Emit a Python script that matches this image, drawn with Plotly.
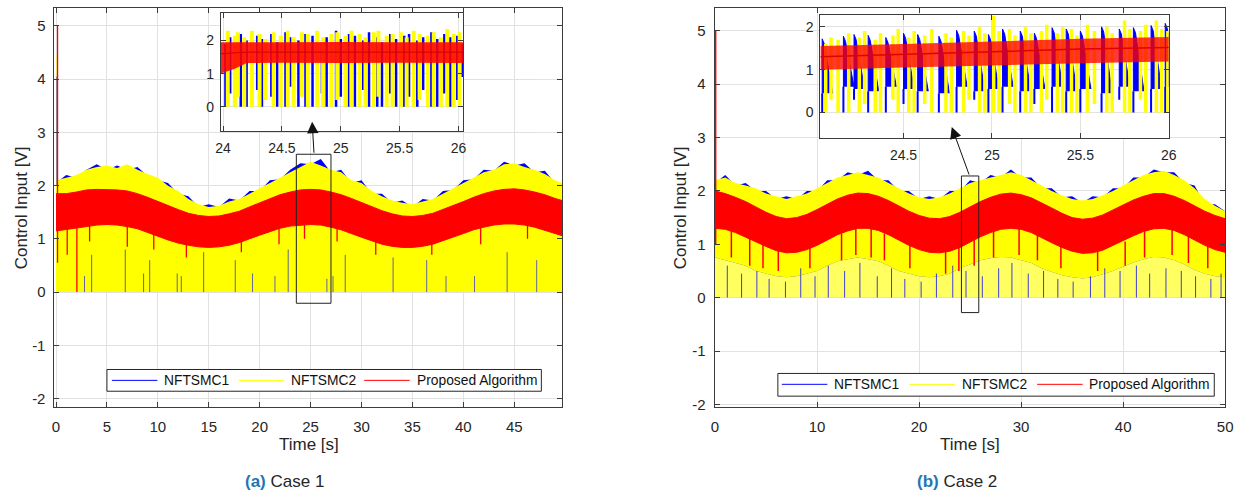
import plotly.graph_objects as go

W, H = 1248, 498

# ---------------- data: panel (a) Case 1 (envelopes) ----------------
t_a = [0, 1, 2, 3, 4, 5, 6, 7, 8, 9, 10, 11, 12, 13, 14, 15, 16, 17, 18, 19, 20, 21, 22, 23, 24,
       25, 26, 27, 28, 29, 30, 31, 32, 33, 34, 35, 36, 37, 38, 39, 40, 41, 42, 43, 44, 45, 46, 47,
       48, 49, 49.7]
yel_up_a = [2.1, 2.15, 2.2, 2.3, 2.35, 2.38, 2.33, 2.4, 2.3, 2.22, 2.15, 2.0, 1.9, 1.75, 1.65, 1.6,
            1.62, 1.7, 1.75, 1.85, 1.95, 2.05, 2.15, 2.25, 2.35, 2.45, 2.38, 2.3, 2.25, 2.1, 2.05,
            1.9, 1.8, 1.72, 1.68, 1.65, 1.7, 1.75, 1.85, 1.95, 2.05, 2.15, 2.25, 2.3, 2.4, 2.42,
            2.35, 2.3, 2.22, 2.1, 2.05]
blue_up_a = [2.05, 2.2, 2.15, 2.3, 2.4, 2.3, 2.38, 2.3, 2.35, 2.18, 2.1, 2.05, 1.85, 1.8, 1.6, 1.65,
             1.6, 1.76, 1.72, 1.9, 1.9, 2.1, 2.12, 2.3, 2.42, 2.4, 2.5, 2.25, 2.3, 2.05, 2.1, 1.85,
             1.85, 1.68, 1.72, 1.6, 1.75, 1.72, 1.9, 1.92, 2.1, 2.12, 2.3, 2.28, 2.45, 2.38, 2.42,
             2.25, 2.28, 2.05, 2.0]
red_up_a = [1.85, 1.85, 1.88, 1.92, 1.93, 1.93, 1.92, 1.9, 1.85, 1.78, 1.7, 1.62, 1.55, 1.48, 1.44,
            1.42, 1.43, 1.47, 1.52, 1.6, 1.68, 1.76, 1.83, 1.88, 1.92, 1.93, 1.92, 1.88, 1.83, 1.76,
            1.68, 1.6, 1.53, 1.47, 1.43, 1.42, 1.44, 1.48, 1.55, 1.63, 1.7, 1.78, 1.85, 1.9, 1.93,
            1.94, 1.92, 1.88, 1.83, 1.76, 1.72]
red_lo_a = [1.15, 1.18, 1.2, 1.23, 1.26, 1.27, 1.26, 1.23, 1.19, 1.12, 1.05, 0.98, 0.92, 0.88, 0.85,
            0.84, 0.85, 0.88, 0.93, 1.0, 1.07, 1.14, 1.2, 1.24, 1.26, 1.27, 1.26, 1.22, 1.17, 1.1,
            1.03, 0.96, 0.9, 0.86, 0.84, 0.84, 0.86, 0.9, 0.96, 1.03, 1.1, 1.17, 1.22, 1.26, 1.28,
            1.28, 1.26, 1.22, 1.17, 1.1, 1.06]
# isolated vertical excursions (time, low, high)
blue_spk_a_t = [0.08, 2.8, 3.5, 6.8, 8.6, 9.2, 11.9, 12.3, 14.5, 17.6, 19.3, 21.5, 22.8, 26.6, 27.2,
                28.4, 33.1, 36.4, 38.3, 41.1, 44.3, 47.2]
blue_spk_a_lo = [2.0, 0, 0, 0, 0, 0, 0, 0, 0, 0, 0, 0, 0, 0, 0, 0, 0, 0, 0, 0, 0, 0]
blue_spk_a_hi = [4.05, 0.3, 0.7, 0.8, 0.35, 0.6, 0.35, 0.3, 0.75, 0.6, 0.35, 0.3, 0.8, 0.25, 0.3,
                 0.7, 0.65, 0.6, 0.3, 0.3, 0.75, 0.6]
yel_spk_a_t = [0.12]
yel_spk_a_lo = [0.0]
yel_spk_a_hi = [4.45]
red_spk_a_t = [0.15, 2.05, 7.0, 1.1, 3.3, 9.6, 12.8, 18.2, 21.9, 24.4, 27.6, 31.4, 36.9, 41.7, 46.3]
red_spk_a_lo = [0.55, 0.0, 0.85, 0.7, 0.95, 0.8, 0.65, 0.75, 0.9, 1.0, 0.95, 0.7, 0.7, 0.9, 1.0]
red_spk_a_hi = [5.0, 1.25, 1.3, 1.4, 1.4, 1.3, 1.1, 1.1, 1.3, 1.4, 1.4, 1.1, 1.0, 1.3, 1.4]

# ---------------- data: panel (b) Case 2 ----------------
t_b = [0, 1, 2, 3, 4, 5, 6, 7, 8, 9, 10, 11, 12, 13, 14, 15, 16, 17, 18, 19, 20, 21, 22, 23, 24,
       25, 26, 27, 28, 29, 30, 31, 32, 33, 34, 35, 36, 37, 38, 39, 40, 41, 42, 43, 44, 45, 46, 47,
       48, 49, 50]
yel_up_b = [2.2, 2.25, 2.15, 2.1, 2.05, 1.95, 1.9, 1.85, 1.9, 1.95, 2.05, 2.15, 2.25, 2.3, 2.35, 2.3,
            2.25, 2.15, 2.05, 1.95, 1.88, 1.85, 1.88, 1.95, 2.05, 2.15, 2.2, 2.25, 2.3, 2.35, 2.3,
            2.2, 2.1, 2.0, 1.92, 1.85, 1.82, 1.85, 1.92, 2.0, 2.1, 2.2, 2.3, 2.35, 2.38, 2.3, 2.2,
            2.05, 1.85, 1.72, 1.62]
yel_lo_b = [0.75, 0.7, 0.65, 0.6, 0.5, 0.45, 0.4, 0.38, 0.4, 0.45, 0.5, 0.6, 0.68, 0.72, 0.75, 0.72,
            0.68, 0.6, 0.5, 0.45, 0.4, 0.38, 0.4, 0.45, 0.55, 0.62, 0.7, 0.74, 0.76, 0.75, 0.7,
            0.65, 0.55, 0.48, 0.42, 0.38, 0.36, 0.38, 0.44, 0.5, 0.58, 0.66, 0.72, 0.76, 0.75, 0.7,
            0.62, 0.52, 0.45, 0.4, 0.38]
blue_up_b = [2.15, 2.3, 2.1, 2.15, 2.0, 2.0, 1.85, 1.9, 1.85, 2.0, 2.0, 2.2, 2.2, 2.35, 2.3, 2.38,
             2.2, 2.2, 2.0, 2.0, 1.85, 1.9, 1.85, 2.0, 2.0, 2.2, 2.15, 2.3, 2.25, 2.4, 2.25, 2.25,
             2.05, 2.05, 1.88, 1.9, 1.78, 1.9, 1.88, 2.05, 2.05, 2.25, 2.25, 2.4, 2.35, 2.35, 2.15,
             2.1, 1.75, 1.75, 1.62]
red_up_b = [2.0, 1.95, 1.88, 1.8, 1.7, 1.6, 1.52, 1.48, 1.5, 1.56, 1.65, 1.75, 1.85, 1.92, 1.96, 1.95,
            1.9, 1.82, 1.72, 1.62, 1.54, 1.49, 1.48, 1.52, 1.6, 1.7, 1.8, 1.88, 1.94, 1.96, 1.93,
            1.87, 1.78, 1.68, 1.58, 1.5, 1.47, 1.49, 1.55, 1.64, 1.74, 1.83, 1.9, 1.95, 1.95, 1.9,
            1.82, 1.72, 1.62, 1.54, 1.48]
red_lo_b = [1.3, 1.28, 1.22, 1.14, 1.05, 0.96, 0.88, 0.84, 0.85, 0.9, 0.98, 1.08, 1.18, 1.25, 1.3,
            1.3, 1.26, 1.18, 1.08, 0.98, 0.9, 0.85, 0.84, 0.87, 0.94, 1.04, 1.14, 1.22, 1.28, 1.3,
            1.28, 1.22, 1.13, 1.03, 0.94, 0.87, 0.83, 0.84, 0.89, 0.97, 1.07, 1.16, 1.24, 1.29, 1.3,
            1.26, 1.18, 1.08, 0.98, 0.9, 0.85]
blue_spk_b_t = [0.04, 1.2, 2.6, 4.1, 5.3, 6.9, 8.4, 9.8, 11.1, 12.7, 14.2, 15.9, 17.3, 18.6, 20.2,
                21.7, 23.3, 24.6, 26.2, 27.8, 29.1, 30.7, 32.2, 33.6, 35.1, 36.8, 38.2, 39.7, 41.3,
                42.6, 44.2, 45.7, 47.1, 48.6, 49.6]
blue_spk_b_lo = [2.2, 0, 0, 0, 0, 0, 0, 0, 0, 0, 0, 0, 0, 0, 0, 0, 0, 0, 0, 0, 0, 0, 0, 0, 0, 0, 0,
                 0, 0, 0, 0, 0, 0, 0, 0]
blue_spk_b_hi = [3.95, 0.6, 0.45, 0.5, 0.35, 0.3, 0.55, 0.4, 0.6, 0.5, 0.65, 0.4, 0.55, 0.35, 0.3,
                 0.45, 0.6, 0.5, 0.4, 0.55, 0.65, 0.45, 0.5, 0.35, 0.3, 0.4, 0.55, 0.5, 0.6, 0.45,
                 0.55, 0.5, 0.4, 0.35, 0.45]
red_spk_b_t = [0.06, 1.6, 3.4, 4.7, 6.2, 9.3, 12.4, 13.8, 15.3, 16.6, 19.1, 22.6, 23.9, 25.4, 27.3,
               29.8, 31.6, 33.9, 37.5, 40.2, 42.1, 44.8, 46.4, 48.3]
red_spk_b_lo = [1.0, 0.75, 0.6, 0.55, 0.5, 0.55, 0.7, 0.8, 0.75, 0.7, 0.55, 0.45, 0.5, 0.6, 0.75,
                0.8, 0.7, 0.55, 0.5, 0.6, 0.75, 0.8, 0.65, 0.55]
red_spk_b_hi = [5.0, 1.3, 1.2, 1.1, 0.95, 0.95, 1.2, 1.3, 1.3, 1.2, 1.0, 0.9, 0.95, 1.1, 1.25,
                1.3, 1.25, 1.05, 0.9, 1.05, 1.25, 1.3, 1.2, 1.0]

# ---------------- data: inset of (a), 24 s - 26 s ----------------
blue_ia_t = [24.02, 24.06, 24.15, 24.20, 24.29, 24.33, 24.41, 24.46, 24.53, 24.57, 24.64, 24.70,
             24.76, 24.84, 24.88, 24.96, 25.00, 25.07, 25.12, 25.19, 25.24, 25.31, 25.35, 25.42,
             25.47, 25.54, 25.58, 25.65, 25.70, 25.77, 25.82, 25.88, 25.93, 25.99, 26.03]
blue_ia_hi = [1.9, 2.1, 2.2, 2.0, 2.15, 2.05, 2.2, 1.95, 2.25, 2.1, 2.0, 2.2, 2.15, 1.95, 2.1, 2.3,
              2.05, 2.2, 2.15, 2.0, 2.25, 2.1, 1.95, 2.2, 2.05, 2.15, 2.2, 2.0, 2.1, 2.25, 2.05, 2.2,
              2.1, 2.15, 1.9]
blue_ia_lo = [0.0, 0.4, 0.0, 0.0, 0.5, 0.0, 0.3, 0.0, 0.0, 0.6, 0.0, 0.0, 0.0, 0.4, 0.0, 0.0, 0.3,
              0.0, 0.0, 0.5, 0.0, 0.0, 0.0, 0.4, 0.0, 0.0, 0.3, 0.0, 0.5, 0.0, 0.0, 0.4, 0.0, 0.2, 0.9]
yel_ia_t = [24.04, 24.10, 24.125, 24.18, 24.245, 24.31, 24.36, 24.43, 24.49, 24.55, 24.60, 24.67,
            24.72, 24.80, 24.85, 24.92, 24.97, 25.04, 25.09, 25.16, 25.21, 25.28, 25.32, 25.39,
            25.44, 25.51, 25.56, 25.62, 25.67, 25.74, 25.79, 25.85, 25.905, 25.96, 26.01]
yel_ia_hi = [2.3, 2.15, 2.25, 2.1, 2.3, 2.2, 2.05, 2.25, 2.15, 2.3, 2.1, 2.25, 2.2, 2.3, 2.1, 2.2,
             2.25, 2.15, 2.3, 2.2, 2.1, 2.25, 2.3, 2.15, 2.2, 2.25, 2.1, 2.3, 2.2, 2.15, 2.25, 2.1,
             2.35, 2.2, 2.25]
yel_ia_lo = [0.0, 0.0, 0.3, 0.0, 0.0, 0.0, 0.2, 0.0, 0.0, 0.0, 0.0, 0.3, 0.0, 0.0, 0.0, 0.0, 0.2,
             0.0, 0.0, 0.0, 0.0, 0.0, 0.3, 0.0, 0.0, 0.0, 0.0, 0.0, 0.2, 0.0, 0.0, 0.0, 0.0, 0.0, 0.0]
red_ia_t = [23.98, 24.1, 24.2, 24.5, 25.0, 25.5, 26.05]
red_ia_hi = [1.95, 1.95, 1.95, 1.95, 1.96, 1.95, 1.95]
red_ia_lo = [1.0, 1.15, 1.32, 1.33, 1.32, 1.33, 1.32]
red_ia_mid = [1.6, 1.62, 1.65, 1.65, 1.66, 1.65, 1.65]

# ---------------- data: inset of (b), 24 s - 26 s ----------------
blue_ib_t = [24.04, 24.16, 24.22, 24.30, 24.40, 24.50, 24.58, 24.70, 24.80, 24.90, 24.98, 25.06,
             25.16, 25.24, 25.34, 25.42, 25.50, 25.62, 25.72, 25.80, 25.90, 25.98]
blue_ib_pk = [1.72, 1.78, 1.82, 1.8, 1.75, 1.85, 1.82, 1.78, 1.92, 1.9, 1.82, 1.95, 1.9, 1.85, 1.98,
              1.95, 1.9, 2.0, 1.95, 1.98, 2.03, 2.08]
blue_ib_end = [0.45, 0.6, 0.55, 0.5, 0.6, 0.55, 0.5, 0.45, 0.6, 0.5, 0.55, 0.6, 0.5, 0.55, 0.6,
               0.5, 0.55, 0.45, 0.6, 0.5, 0.55, 0.6]
blue_ib_drop = [0.0, 0.0, 0.3, 0.0, 0.0, 0.2, 0.0, 0.0, 0.0, 0.3, 0.0, 0.0, 0.0, 0.2, 0.0, 0.0,
                0.0, 0.0, 0.3, 0.0, 0.0, 0.0]
yel_ib_t = [24.06, 24.09, 24.13, 24.19, 24.25, 24.28, 24.34, 24.37, 24.44, 24.47, 24.53, 24.56,
            24.62, 24.66, 24.74, 24.77, 24.84, 24.87, 24.93, 24.96, 25.01, 25.04, 25.10, 25.13,
            25.19, 25.22, 25.28, 25.31, 25.37, 25.40, 25.45, 25.48, 25.54, 25.58, 25.65, 25.68,
            25.75, 25.78, 25.84, 25.87, 25.93, 25.96, 25.995]
yel_ib_hi = [1.6, 1.75, 1.7, 1.85, 1.75, 1.9, 1.7, 1.85, 1.8, 1.95, 1.75, 1.9, 1.8, 1.95, 1.85, 1.75,
             1.9, 1.8, 2.0, 1.85, 2.25, 1.9, 1.95, 1.8, 2.0, 1.85, 1.9, 2.05, 1.85, 2.0, 1.95, 1.8,
             2.05, 1.9, 2.0, 1.85, 2.15, 1.95, 1.9, 2.05, 2.15, 1.95, 1.9]
yel_ib_lo = [0.0, 0.3, 0.0, 0.0, 0.0, 0.2, 0.0, 0.0, 0.3, 0.0, 0.0, 0.0, 0.2, 0.0, 0.0, 0.0, 0.0,
             0.3, 0.0, 0.0, 0.0, 0.0, 0.2, 0.0, 0.0, 0.0, 0.0, 0.3, 0.0, 0.0, 0.0, 0.0, 0.0, 0.2, 0.0,
             0.0, 0.0, 0.0, 0.3, 0.0, 0.0, 0.0, 0.0]
red_ib_t = [24.03, 24.5, 25.0, 25.5, 26.0]
red_ib_hi = [1.55, 1.6, 1.66, 1.72, 1.76]
red_ib_lo = [1.0, 1.05, 1.1, 1.15, 1.19]
red_ib_mid = [1.3, 1.36, 1.42, 1.48, 1.52]

# ---------------- text ----------------
series_names = ["NFTSMC1", "NFTSMC2", "Proposed Algorithm"]
series_colors = ["#0000ff", "#ffff00", "#ff0000"]
xticks_a = [0, 5, 10, 15, 20, 25, 30, 35, 40, 45]
xticks_b = [0, 10, 20, 30, 40, 50]
yticks_main = [-2, -1, 0, 1, 2, 3, 4, 5]
xticks_ia = [24, 24.5, 25, 25.5, 26]
xticks_ib = [24.5, 25, 25.5, 26]
yticks_in = [0, 1, 2]

BLUE, YEL, RED = series_colors
FONT = "Liberation Sans, Arial, Helvetica, sans-serif"
TXT = "#262626"


def segs(ts, lows, highs):
    xs, ys = [], []
    for t, lo, hi in zip(ts, lows, highs):
        xs += [t, t, None]
        ys += [lo, hi, None]
    return xs, ys


def band(ts, lo, hi):
    return list(ts) + list(ts)[::-1], list(hi) + list(lo)[::-1]


fig = go.Figure()


def add(tr, xa, ya):
    tr.update(xaxis=xa, yaxis=ya, showlegend=False, hoverinfo="skip")
    fig.add_trace(tr)


# ----- panel (a) -----
bx, by = band(t_a, [0] * len(t_a), blue_up_a)
add(go.Scatter(x=bx, y=by, fill="toself", fillcolor=BLUE, mode="none",
               name=series_names[0]), "x", "y")
yx, yy = band(t_a, [0] * len(t_a), yel_up_a)
add(go.Scatter(x=yx, y=yy, fill="toself", fillcolor=YEL, mode="none",
               name=series_names[1]), "x", "y")
sx, sy = segs(yel_spk_a_t, yel_spk_a_lo, yel_spk_a_hi)
add(go.Scatter(x=sx, y=sy, mode="lines", line=dict(color=YEL, width=1.5)), "x", "y")
sx, sy = segs(blue_spk_a_t, blue_spk_a_lo, blue_spk_a_hi)
add(go.Scatter(x=sx, y=sy, mode="lines", line=dict(color=BLUE, width=1), opacity=0.6), "x", "y")
rx, ry = band(t_a, red_lo_a, red_up_a)
add(go.Scatter(x=rx, y=ry, fill="toself", fillcolor=RED, mode="lines",
               line=dict(color=RED, width=1), name=series_names[2]), "x", "y")
sx, sy = segs(red_spk_a_t, red_spk_a_lo, red_spk_a_hi)
add(go.Scatter(x=sx, y=sy, mode="lines", line=dict(color=RED, width=1.3)), "x", "y")

# ----- panel (b) -----
bx, by = band(t_b, yel_lo_b, blue_up_b)
add(go.Scatter(x=bx, y=by, fill="toself", fillcolor=BLUE, mode="none"), "x2", "y2")
yx, yy = band(t_b, yel_lo_b, yel_up_b)
add(go.Scatter(x=yx, y=yy, fill="toself", fillcolor=YEL, mode="none"), "x2", "y2")
lx, ly = band(t_b, [0] * len(t_b), yel_lo_b)
add(go.Scatter(x=lx, y=ly, fill="toself", fillcolor="rgba(255,255,0,0.62)", mode="none"), "x2", "y2")
sx, sy = segs(blue_spk_b_t, blue_spk_b_lo, blue_spk_b_hi)
add(go.Scatter(x=sx, y=sy, mode="lines", line=dict(color=BLUE, width=1), opacity=0.75), "x2", "y2")
rx, ry = band(t_b, red_lo_b, red_up_b)
add(go.Scatter(x=rx, y=ry, fill="toself", fillcolor=RED, mode="lines",
               line=dict(color=RED, width=1)), "x2", "y2")
sx, sy = segs(red_spk_b_t, red_spk_b_lo, red_spk_b_hi)
add(go.Scatter(x=sx, y=sy, mode="lines", line=dict(color=RED, width=1.5)), "x2", "y2")

# ----- inset (a) -----
sx, sy = segs(blue_ia_t, blue_ia_lo, blue_ia_hi)
add(go.Scatter(x=sx, y=sy, mode="lines", line=dict(color=BLUE, width=2.5)), "x3", "y3")
sx, sy = segs(yel_ia_t, yel_ia_lo, yel_ia_hi)
add(go.Scatter(x=sx, y=sy, mode="lines", line=dict(color=YEL, width=4)), "x3", "y3")
rx, ry = band(red_ia_t, red_ia_lo, red_ia_hi)
add(go.Scatter(x=rx, y=ry, fill="toself", fillcolor="rgba(255,0,0,0.88)", mode="none"), "x3", "y3")
add(go.Scatter(x=red_ia_t, y=red_ia_mid, mode="lines", line=dict(color="#d00000", width=1)), "x3", "y3")

# ----- inset (b) -----
tx, ty = [], []
for t, pk, en in zip(blue_ib_t, blue_ib_pk, blue_ib_end):
    tx += [t, t, t + 0.012, t + 0.06, t + 0.06, None]
    ty += [en, pk, pk - 0.12, en, en, None]
add(go.Scatter(x=tx, y=ty, fill="toself", fillcolor=BLUE, mode="lines",
               line=dict(color=BLUE, width=1)), "x4", "y4")
sx, sy = segs(blue_ib_t, blue_ib_drop, blue_ib_end)
add(go.Scatter(x=sx, y=sy, mode="lines", line=dict(color=BLUE, width=2)), "x4", "y4")
sx, sy = segs(yel_ib_t, yel_ib_lo, yel_ib_hi)
add(go.Scatter(x=sx, y=sy, mode="lines", line=dict(color=YEL, width=3.5)), "x4", "y4")
rx, ry = band(red_ib_t, red_ib_lo, red_ib_hi)
add(go.Scatter(x=rx, y=ry, fill="toself", fillcolor="rgba(255,0,0,0.78)", mode="none"), "x4", "y4")
add(go.Scatter(x=red_ib_t, y=red_ib_mid, mode="lines", line=dict(color="#e00000", width=1.5)), "x4", "y4")


# ---------------- axes ----------------
def axis(domain, rng, tickvals, size=15, anchor=None, standoff=4):
    d = dict(domain=domain, range=rng, tickvals=tickvals, ticktext=[f"{v:g}" for v in tickvals],
             showgrid=True, gridcolor="#e2e2e2", gridwidth=1, zeroline=False,
             showline=True, linecolor="#3c3c3c", linewidth=1, mirror="allticks",
             ticks="inside", ticklen=5, tickcolor="#3c3c3c", tickwidth=1,
             ticklabelstandoff=standoff,
             tickfont=dict(family=FONT, size=size, color=TXT), fixedrange=True)
    if anchor:
        d["anchor"] = anchor
    return d


def fx(p):
    return p / W


def fy(p):
    return 1 - p / H


fig.update_layout(
    width=W, height=H, margin=dict(l=0, r=0, t=0, b=0),
    paper_bgcolor="white", plot_bgcolor="white", showlegend=False,
    xaxis=axis([fx(50), fx(563)], [-0.15, 49.7], xticks_a, anchor="y", standoff=6),
    yaxis=axis([fy(412), fy(8)], [-2.16, 5.34], yticks_main, anchor="x", standoff=5),
    xaxis2=axis([fx(717), fx(1233)], [-0.05, 50], xticks_b, anchor="y2", standoff=6),
    yaxis2=axis([fy(412), fy(8)], [-2.05, 5.43], yticks_main, anchor="x2", standoff=5),
    xaxis3=axis([fx(218), fx(463)], [23.98, 26.04], xticks_ia, size=14, anchor="y3", standoff=4),
    yaxis3=axis([fy(133), fy(13)], [-0.75, 2.84], yticks_in, size=14, anchor="x3", standoff=3),
    xaxis4=axis([fx(824), fx(1176)], [24.03, 26.0], xticks_ib, size=14, anchor="y4", standoff=4),
    yaxis4=axis([fy(140), fy(15)], [-0.6, 2.28], yticks_in, size=14, anchor="x4", standoff=3),
)

# zoom rectangles
fig.add_shape(type="rect", xref="x", yref="y", x0=23.6, x1=27.0, y0=-0.21, y1=2.59,
              line=dict(color="#222", width=1))
fig.add_shape(type="rect", xref="x2", yref="y2", x0=24.15, x1=25.85, y0=-0.28, y1=2.28,
              line=dict(color="#222", width=1))

ann = []
# arrows
ann.append(dict(xref="x", yref="y", axref="x", ayref="y", x=25.15, y=3.2, ax=25.34, ay=2.59,
                text="", showarrow=True, arrowhead=2, arrowsize=2.3, arrowwidth=1, arrowcolor="#111"))
ann.append(dict(xref="x2", yref="y2", axref="x2", ayref="y2", x=23.2, y=3.2, ax=24.95, ay=2.28,
                text="", showarrow=True, arrowhead=2, arrowsize=2.3, arrowwidth=1, arrowcolor="#111"))

C = dict(xanchor="center", yanchor="middle", showarrow=False, xref="paper", yref="paper")
# axis titles
for xc in (17, 683):
    ann.append(dict(x=fx(xc), y=fy(210), text="Control Input [V]", textangle=-90,
                    font=dict(family=FONT, size=17, color=TXT), **C))
for xc in (307, 975):
    ann.append(dict(x=fx(xc), y=fy(450), text="Time [s]",
                    font=dict(family=FONT, size=17, color=TXT), **C))
# captions
for xc, lab, case in ((282, "(a)", "Case 1"), (962, "(b)", "Case 2")):
    ann.append(dict(x=fx(xc), y=fy(487),
                    text=f'<span style="color:#1f77b4"><b>{lab}</b></span> {case}',
                    font=dict(family=FONT, size=17, color=TXT), **C))


# legends (drawn as box, line samples and labels)
def legend(x0, x1, y0, y1, yc, line_starts, text_starts):
    fig.add_shape(type="rect", xref="paper", yref="paper", x0=fx(x0), x1=fx(x1), y0=fy(y1), y1=fy(y0),
                  line=dict(color="#262626", width=1), fillcolor="white", layer="above")
    for ls, ts, name, col in zip(line_starts, text_starts, series_names, series_colors):
        fig.add_shape(type="line", xref="paper", yref="paper", x0=fx(ls), x1=fx(ls + 46),
                      y0=fy(yc), y1=fy(yc), line=dict(color=col, width=1), layer="above")
        ann.append(dict(xref="paper", yref="paper", x=fx(ts), y=fy(yc), xanchor="left",
                        yanchor="middle", text=name, showarrow=False,
                        font=dict(family=FONT, size=13.8, color="#111")))


legend(103, 542, 374, 396, 385, [108, 236, 363], [159, 287, 414])
legend(781, 1222, 378, 401, 389, [785, 914, 1043], [836, 965, 1093])

fig.update_layout(annotations=ann)
fig.write_html("out.html",
               post_script="document.body.style.margin='0';document.body.style.padding='0';")
